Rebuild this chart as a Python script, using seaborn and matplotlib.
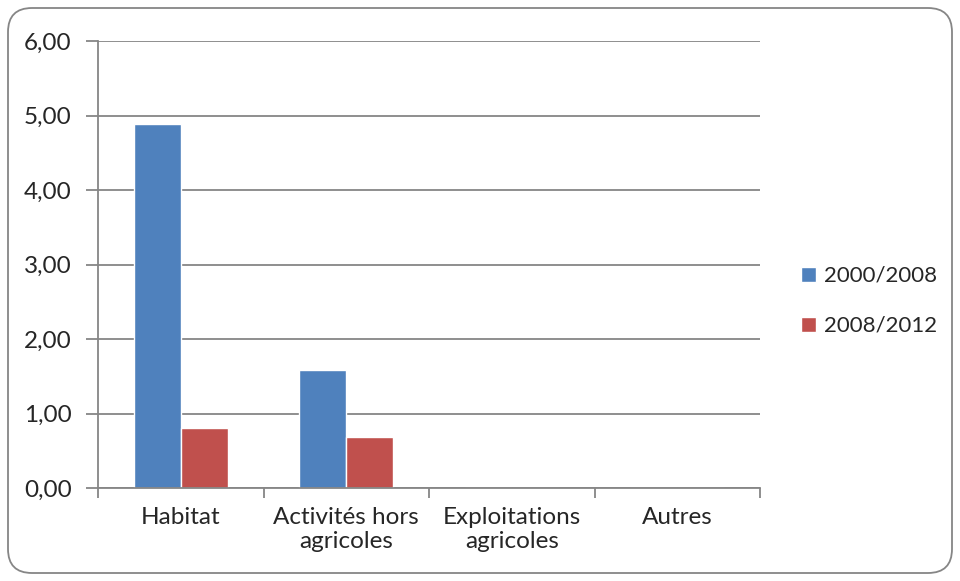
import matplotlib
matplotlib.use("Agg")
import matplotlib.pyplot as plt
import seaborn as sns
import pandas as pd
from matplotlib.patches import FancyBboxPatch, Patch
from matplotlib.ticker import FuncFormatter, MultipleLocator

categories = ["Habitat", "Activités hors\nagricoles", "Exploitations\nagricoles", "Autres"]
series_names = ["2000/2008", "2008/2012"]
values_2000_2008 = [4.88, 1.58, 0.0, 0.0]
values_2008_2012 = [0.80, 0.69, 0.0, 0.0]
colors = ["#4F81BD", "#C0504D"]

df = pd.DataFrame({
    "cat": categories * 2,
    "serie": [series_names[0]] * 4 + [series_names[1]] * 4,
    "val": values_2000_2008 + values_2008_2012,
})

sns.set_theme(style="white")
plt.rcParams["font.family"] = ["Lato", "DejaVu Sans"]
FS = 17.5

fig = plt.figure(figsize=(9.6, 5.81), dpi=100)
ax = fig.add_axes([98/960, 1-488/581, (760-98)/960, (488-41)/581])

sns.barplot(data=df, x="cat", y="val", hue="serie", palette=colors,
            width=0.57, gap=0, ax=ax, legend=False, saturation=1)

ax.set_ylim(0, 6)
ax.set_xlim(-0.5, 3.5)
ax.yaxis.set_major_locator(MultipleLocator(1))
ax.yaxis.set_major_formatter(FuncFormatter(lambda v, p: f"{v:.2f}".replace(".", ",")))
ax.grid(axis="y", color="#868686", linewidth=1.3)
ax.set_axisbelow(True)
ax.set_xlabel("")
ax.set_ylabel("")

for s in ["top", "right"]:
    ax.spines[s].set_visible(False)
for s in ["left", "bottom"]:
    ax.spines[s].set_color("#868686")
    ax.spines[s].set_linewidth(1.3)

ax.set_xticks([-0.5, 0.5, 1.5, 2.5, 3.5], minor=False)
ax.set_xticklabels([])
ax.set_xticks([0, 1, 2, 3], minor=True)
ax.set_xticklabels(categories, minor=True, fontsize=FS, linespacing=1.15)
ax.tick_params(axis="x", which="major", length=7, width=1.3, color="#868686", direction="out", bottom=True)
ax.tick_params(axis="x", which="minor", length=0, pad=14)
ax.tick_params(axis="y", length=9, width=1.3, color="#868686", direction="out", left=True, labelsize=FS, pad=10)

handles = [Patch(facecolor=c, label=n) for c, n in zip(colors, series_names)]
fig.legend(handles=handles, loc="center left", bbox_to_anchor=(801/960, 1-301/581),
           frameon=False, fontsize=16, handlelength=0.68, handleheight=0.68,
           handletextpad=0.35, labelspacing=1.35, borderpad=0, borderaxespad=0)

frame = FancyBboxPatch((8/960, 8/581), 944/960, 565/581,
                       boxstyle="round,pad=0,rounding_size=0.025",
                       transform=fig.transFigure, facecolor="none",
                       edgecolor="#868686", linewidth=1.3, mutation_aspect=960/581)
fig.patches.append(frame)

fig.savefig("out.png", dpi=100)
